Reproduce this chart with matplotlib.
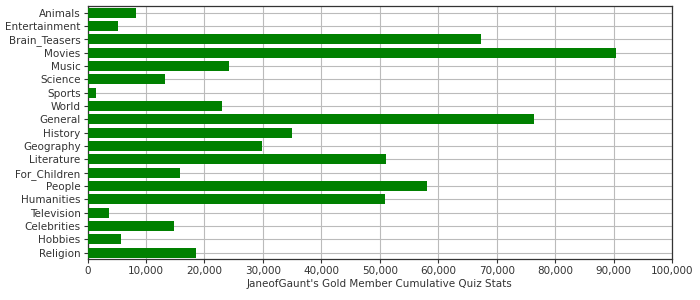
import matplotlib.pyplot as plt
from matplotlib.ticker import FuncFormatter

categories = ['Animals', 'Entertainment', 'Brain_Teasers', 'Movies', 'Music',
              'Science', 'Sports', 'World', 'General', 'History', 'Geography',
              'Literature', 'For_Children', 'People', 'Humanities', 'Television',
              'Celebrities', 'Hobbies', 'Religion']
values = [8300, 5200, 67300, 90300, 24200, 13250, 1450, 23000, 76300, 34950,
          29900, 51000, 15800, 58000, 50850, 3650, 14800, 5750, 18500]
xticks = list(range(0, 100001, 10000))

fig = plt.figure(figsize=(7, 3), dpi=100)
ax = fig.add_axes([87.5 / 700, 1 - 259.3 / 300, (672.3 - 87.5) / 700, (259.3 - 6) / 300])

pos = list(range(len(categories)))
ax.barh(pos, values, height=0.74, color='#008000', zorder=3)

ax.set_ylim(len(categories) - 0.5, -0.5)
ax.set_yticks(pos)
ax.set_yticklabels(categories)
ax.set_xlim(0, 100000)
ax.set_xticks(xticks)
ax.xaxis.set_major_formatter(FuncFormatter(lambda v, p: f'{int(v):,}'))

ax.grid(True, color='#bbbbbb', linewidth=0.8, zorder=0)
ax.set_axisbelow(True)
for s in ax.spines.values():
    s.set_color('#333333')
    s.set_linewidth(0.9)
ax.tick_params(axis='both', colors='#333333', labelsize=7.5, length=3, width=0.8)
ax.tick_params(axis='y', pad=2)
ax.tick_params(axis='x', pad=2)

ax.set_xlabel("JaneofGaunt's Gold Member Cumulative Quiz Stats", fontsize=7.5,
              color='#333333', labelpad=2)

fig.savefig('out.png', dpi=100)
